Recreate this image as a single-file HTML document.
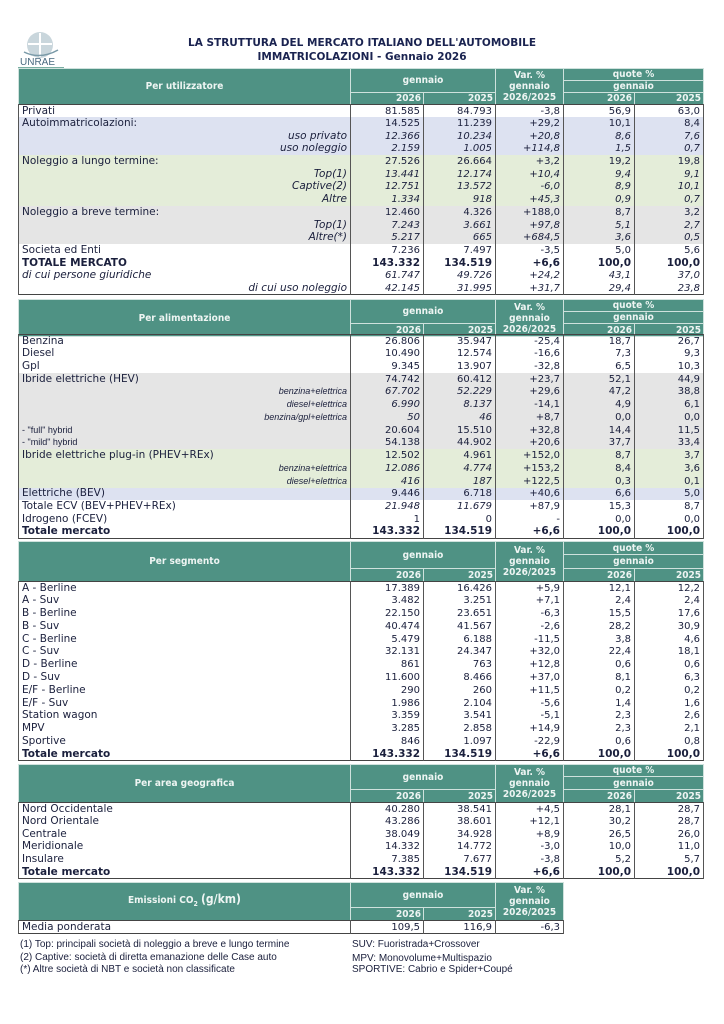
<!DOCTYPE html>
<html><head><meta charset="utf-8">
<style>
body{margin:0;width:724px;height:1024px;background:#fff;position:relative;font-family:"DejaVu Sans","Liberation Sans",sans-serif;color:#1a1f3c;overflow:hidden}
.t{position:absolute;left:18px;border-collapse:collapse;table-layout:fixed;font-size:10px}
.t td{padding:0 3px;white-space:nowrap;overflow:hidden;line-height:11px}
.h td{background:#4f9284;color:#eef5f3;font-family:"DejaVu Sans Condensed","DejaVu Sans",sans-serif;font-weight:bold;font-size:10px;text-align:center;border:1px solid #cfe2dd;padding:0 2px}
.h td.y{text-align:right}
.b td{text-align:right;border-left:1px solid #555;border-right:1px solid #555}
.b td:first-child{text-align:left;font-size:10.5px}
.bl{background:#dde2f1}.gr{background:#e4edd9}.gy{background:#e5e5e5}
.it td{font-style:italic}
.bd td{font-weight:bold;font-size:10.5px}
.sm td:first-child{font-family:"Liberation Sans",sans-serif;font-size:9px;font-style:italic;text-align:right}
.sm2 td:first-child{font-family:"Liberation Sans",sans-serif;font-size:9px}
.ri td:first-child{text-align:right;font-style:italic}
.body{border:1px solid #444}
.title{position:absolute;left:0;width:724px;text-align:center;font-weight:bold;font-size:10.5px;color:#1a2350}
.fn{position:absolute;font-family:"Liberation Sans",sans-serif;font-size:10px;color:#1a1f3c}
</style></head><body>
<svg style="position:absolute;left:18px;top:30px" width="48" height="40">
<circle cx="22" cy="15" r="13" fill="#c9d6dc"/><path d="M10 14 H34 M22 3 V27" stroke="#fff" stroke-width="2"/>
<path d="M6 22 Q22 30 40 20" stroke="#7a9aa8" fill="none" stroke-width="1.5"/>
<text x="2" y="35" font-family="Liberation Sans" font-size="10" fill="#4a6a80">UNRAE</text>
<line x1="0" y1="38" x2="46" y2="38" stroke="#4f9284" stroke-width="1.5"/></svg>
<div class="title" style="top:37px">LA STRUTTURA DEL MERCATO ITALIANO DELL'AUTOMOBILE</div>
<div class="title" style="top:51px">IMMATRICOLAZIONI - Gennaio 2026</div>

<!-- S1 -->
<table class="t" style="top:68px;width:685px">
<colgroup><col style="width:332px"><col style="width:73px"><col style="width:72px"><col style="width:68px"><col style="width:71px"><col style="width:69px"></colgroup>
<tr class="h" style="height:12px"><td rowspan="3">Per utilizzatore</td><td colspan="2" rowspan="2">gennaio</td><td rowspan="3">Var. %<br>gennaio<br>2026/2025</td><td colspan="2">quote %</td></tr>
<tr class="h" style="height:12px"><td colspan="2">gennaio</td></tr>
<tr class="h" style="height:12px"><td class="y">2026</td><td class="y">2025</td><td class="y">2026</td><td class="y">2025</td></tr>
</table>
<table class="t body" style="top:104px;width:685px">
<colgroup><col style="width:332px"><col style="width:73px"><col style="width:72px"><col style="width:68px"><col style="width:71px"><col style="width:69px"></colgroup>
<tr class="b" style="height:12.7px"><td>Privati</td><td>81.585</td><td>84.793</td><td>-3,8</td><td>56,9</td><td>63,0</td></tr>
<tr class="b bl" style="height:12.7px"><td>Autoimmatricolazioni:</td><td>14.525</td><td>11.239</td><td>+29,2</td><td>10,1</td><td>8,4</td></tr>
<tr class="b bl it ri" style="height:12.7px"><td>uso privato</td><td>12.366</td><td>10.234</td><td>+20,8</td><td>8,6</td><td>7,6</td></tr>
<tr class="b bl it ri" style="height:12.7px"><td>uso noleggio</td><td>2.159</td><td>1.005</td><td>+114,8</td><td>1,5</td><td>0,7</td></tr>
<tr class="b gr" style="height:12.7px"><td>Noleggio a lungo termine:</td><td>27.526</td><td>26.664</td><td>+3,2</td><td>19,2</td><td>19,8</td></tr>
<tr class="b gr it ri" style="height:12.7px"><td>Top(1)</td><td>13.441</td><td>12.174</td><td>+10,4</td><td>9,4</td><td>9,1</td></tr>
<tr class="b gr it ri" style="height:12.7px"><td>Captive(2)</td><td>12.751</td><td>13.572</td><td>-6,0</td><td>8,9</td><td>10,1</td></tr>
<tr class="b gr it ri" style="height:12.7px"><td>Altre</td><td>1.334</td><td>918</td><td>+45,3</td><td>0,9</td><td>0,7</td></tr>
<tr class="b gy" style="height:12.7px"><td>Noleggio a breve termine:</td><td>12.460</td><td>4.326</td><td>+188,0</td><td>8,7</td><td>3,2</td></tr>
<tr class="b gy it ri" style="height:12.7px"><td>Top(1)</td><td>7.243</td><td>3.661</td><td>+97,8</td><td>5,1</td><td>2,7</td></tr>
<tr class="b gy it ri" style="height:12.7px"><td>Altre(*)</td><td>5.217</td><td>665</td><td>+684,5</td><td>3,6</td><td>0,5</td></tr>
<tr class="b" style="height:12.7px"><td>Societa ed Enti</td><td>7.236</td><td>7.497</td><td>-3,5</td><td>5,0</td><td>5,6</td></tr>
<tr class="b bd" style="height:12.7px"><td>TOTALE MERCATO</td><td>143.332</td><td>134.519</td><td>+6,6</td><td>100,0</td><td>100,0</td></tr>
<tr class="b it" style="height:12.7px"><td>di cui persone giuridiche</td><td>61.747</td><td>49.726</td><td>+24,2</td><td>43,1</td><td>37,0</td></tr>
<tr class="b it ri" style="height:12.7px"><td>di cui uso noleggio</td><td>42.145</td><td>31.995</td><td>+31,7</td><td>29,4</td><td>23,8</td></tr>
</table>

<!-- S2 -->
<table class="t" style="top:299px;width:685px">
<colgroup><col style="width:332px"><col style="width:73px"><col style="width:72px"><col style="width:68px"><col style="width:71px"><col style="width:69px"></colgroup>
<tr class="h" style="height:11px"><td rowspan="3">Per alimentazione</td><td colspan="2" rowspan="2">gennaio</td><td rowspan="3">Var. %<br>gennaio<br>2026/2025</td><td colspan="2">quote %</td></tr>
<tr class="h" style="height:11px"><td colspan="2">gennaio</td></tr>
<tr class="h" style="height:13px"><td class="y">2026</td><td class="y">2025</td><td class="y">2026</td><td class="y">2025</td></tr>
</table>
<table class="t body" style="top:334px;width:685px">
<colgroup><col style="width:332px"><col style="width:73px"><col style="width:72px"><col style="width:68px"><col style="width:71px"><col style="width:69px"></colgroup>
<tr class="b" style="height:12.75px"><td>Benzina</td><td>26.806</td><td>35.947</td><td>-25,4</td><td>18,7</td><td>26,7</td></tr>
<tr class="b" style="height:12.75px"><td>Diesel</td><td>10.490</td><td>12.574</td><td>-16,6</td><td>7,3</td><td>9,3</td></tr>
<tr class="b" style="height:12.75px"><td>Gpl</td><td>9.345</td><td>13.907</td><td>-32,8</td><td>6,5</td><td>10,3</td></tr>
<tr class="b gy" style="height:12.75px"><td>Ibride elettriche (HEV)</td><td>74.742</td><td>60.412</td><td>+23,7</td><td>52,1</td><td>44,9</td></tr>
<tr class="b gy sm" style="height:12.75px"><td>benzina+elettrica</td><td><i>67.702</i></td><td><i>52.229</i></td><td>+29,6</td><td>47,2</td><td>38,8</td></tr>
<tr class="b gy sm" style="height:12.75px"><td>diesel+elettrica</td><td><i>6.990</i></td><td><i>8.137</i></td><td>-14,1</td><td>4,9</td><td>6,1</td></tr>
<tr class="b gy sm" style="height:12.75px"><td>benzina/gpl+elettrica</td><td><i>50</i></td><td><i>46</i></td><td>+8,7</td><td>0,0</td><td>0,0</td></tr>
<tr class="b gy sm2" style="height:12.75px"><td>- "full" hybrid</td><td>20.604</td><td>15.510</td><td>+32,8</td><td>14,4</td><td>11,5</td></tr>
<tr class="b gy sm2" style="height:12.75px"><td>- "mild" hybrid</td><td>54.138</td><td>44.902</td><td>+20,6</td><td>37,7</td><td>33,4</td></tr>
<tr class="b gr" style="height:12.75px"><td>Ibride elettriche plug-in (PHEV+REx)</td><td>12.502</td><td>4.961</td><td>+152,0</td><td>8,7</td><td>3,7</td></tr>
<tr class="b gr sm" style="height:12.75px"><td>benzina+elettrica</td><td><i>12.086</i></td><td><i>4.774</i></td><td>+153,2</td><td>8,4</td><td>3,6</td></tr>
<tr class="b gr sm" style="height:12.75px"><td>diesel+elettrica</td><td><i>416</i></td><td><i>187</i></td><td>+122,5</td><td>0,3</td><td>0,1</td></tr>
<tr class="b bl" style="height:12.75px"><td>Elettriche (BEV)</td><td>9.446</td><td>6.718</td><td>+40,6</td><td>6,6</td><td>5,0</td></tr>
<tr class="b" style="height:12.75px"><td>Totale ECV (BEV+PHEV+REx)</td><td><i>21.948</i></td><td><i>11.679</i></td><td>+87,9</td><td>15,3</td><td>8,7</td></tr>
<tr class="b" style="height:12.75px"><td>Idrogeno (FCEV)</td><td>1</td><td>0</td><td>-</td><td>0,0</td><td>0,0</td></tr>
<tr class="b bd" style="height:12.75px"><td>Totale mercato</td><td>143.332</td><td>134.519</td><td>+6,6</td><td>100,0</td><td>100,0</td></tr>
</table>

<!-- S3 -->
<table class="t" style="top:541px;width:685px">
<colgroup><col style="width:332px"><col style="width:73px"><col style="width:72px"><col style="width:68px"><col style="width:71px"><col style="width:69px"></colgroup>
<tr class="h" style="height:13px"><td rowspan="3">Per segmento</td><td colspan="2" rowspan="2">gennaio</td><td rowspan="3">Var. %<br>gennaio<br>2026/2025</td><td colspan="2">quote %</td></tr>
<tr class="h" style="height:14px"><td colspan="2">gennaio</td></tr>
<tr class="h" style="height:13px"><td class="y">2026</td><td class="y">2025</td><td class="y">2026</td><td class="y">2025</td></tr>
</table>
<table class="t body" style="top:581px;width:685px">
<colgroup><col style="width:332px"><col style="width:73px"><col style="width:72px"><col style="width:68px"><col style="width:71px"><col style="width:69px"></colgroup>
<tr class="b" style="height:12.8px"><td>A - Berline</td><td>17.389</td><td>16.426</td><td>+5,9</td><td>12,1</td><td>12,2</td></tr>
<tr class="b" style="height:12.8px"><td>A - Suv</td><td>3.482</td><td>3.251</td><td>+7,1</td><td>2,4</td><td>2,4</td></tr>
<tr class="b" style="height:12.8px"><td>B - Berline</td><td>22.150</td><td>23.651</td><td>-6,3</td><td>15,5</td><td>17,6</td></tr>
<tr class="b" style="height:12.8px"><td>B - Suv</td><td>40.474</td><td>41.567</td><td>-2,6</td><td>28,2</td><td>30,9</td></tr>
<tr class="b" style="height:12.8px"><td>C - Berline</td><td>5.479</td><td>6.188</td><td>-11,5</td><td>3,8</td><td>4,6</td></tr>
<tr class="b" style="height:12.8px"><td>C - Suv</td><td>32.131</td><td>24.347</td><td>+32,0</td><td>22,4</td><td>18,1</td></tr>
<tr class="b" style="height:12.8px"><td>D - Berline</td><td>861</td><td>763</td><td>+12,8</td><td>0,6</td><td>0,6</td></tr>
<tr class="b" style="height:12.8px"><td>D - Suv</td><td>11.600</td><td>8.466</td><td>+37,0</td><td>8,1</td><td>6,3</td></tr>
<tr class="b" style="height:12.8px"><td>E/F - Berline</td><td>290</td><td>260</td><td>+11,5</td><td>0,2</td><td>0,2</td></tr>
<tr class="b" style="height:12.8px"><td>E/F - Suv</td><td>1.986</td><td>2.104</td><td>-5,6</td><td>1,4</td><td>1,6</td></tr>
<tr class="b" style="height:12.8px"><td>Station wagon</td><td>3.359</td><td>3.541</td><td>-5,1</td><td>2,3</td><td>2,6</td></tr>
<tr class="b" style="height:12.8px"><td>MPV</td><td>3.285</td><td>2.858</td><td>+14,9</td><td>2,3</td><td>2,1</td></tr>
<tr class="b" style="height:12.8px"><td>Sportive</td><td>846</td><td>1.097</td><td>-22,9</td><td>0,6</td><td>0,8</td></tr>
<tr class="b bd" style="height:12.8px"><td>Totale mercato</td><td>143.332</td><td>134.519</td><td>+6,6</td><td>100,0</td><td>100,0</td></tr>
</table>

<!-- S4 -->
<table class="t" style="top:764px;width:685px">
<colgroup><col style="width:332px"><col style="width:73px"><col style="width:72px"><col style="width:68px"><col style="width:71px"><col style="width:69px"></colgroup>
<tr class="h" style="height:12px"><td rowspan="3">Per area geografica</td><td colspan="2" rowspan="2">gennaio</td><td rowspan="3">Var. %<br>gennaio<br>2026/2025</td><td colspan="2">quote %</td></tr>
<tr class="h" style="height:13px"><td colspan="2">gennaio</td></tr>
<tr class="h" style="height:13px"><td class="y">2026</td><td class="y">2025</td><td class="y">2026</td><td class="y">2025</td></tr>
</table>
<table class="t body" style="top:802px;width:685px">
<colgroup><col style="width:332px"><col style="width:73px"><col style="width:72px"><col style="width:68px"><col style="width:71px"><col style="width:69px"></colgroup>
<tr class="b" style="height:12.7px"><td>Nord Occidentale</td><td>40.280</td><td>38.541</td><td>+4,5</td><td>28,1</td><td>28,7</td></tr>
<tr class="b" style="height:12.7px"><td>Nord Orientale</td><td>43.286</td><td>38.601</td><td>+12,1</td><td>30,2</td><td>28,7</td></tr>
<tr class="b" style="height:12.7px"><td>Centrale</td><td>38.049</td><td>34.928</td><td>+8,9</td><td>26,5</td><td>26,0</td></tr>
<tr class="b" style="height:12.7px"><td>Meridionale</td><td>14.332</td><td>14.772</td><td>-3,0</td><td>10,0</td><td>11,0</td></tr>
<tr class="b" style="height:12.7px"><td>Insulare</td><td>7.385</td><td>7.677</td><td>-3,8</td><td>5,2</td><td>5,7</td></tr>
<tr class="b bd" style="height:12.7px"><td>Totale mercato</td><td>143.332</td><td>134.519</td><td>+6,6</td><td>100,0</td><td>100,0</td></tr>
</table>

<!-- S5 -->
<table class="t" style="top:882px;width:545px">
<colgroup><col style="width:332px"><col style="width:73px"><col style="width:72px"><col style="width:68px"></colgroup>
<tr class="h" style="height:12px"><td rowspan="3" style="font-size:10px">Emissioni CO<sub style="font-size:7px">2</sub> <span style="font-size:12px">(g/km)</span></td><td colspan="2" rowspan="2">gennaio</td><td rowspan="3">Var. %<br>gennaio<br>2026/2025</td></tr>
<tr class="h" style="height:13px"></tr>
<tr class="h" style="height:13px"><td class="y">2026</td><td class="y">2025</td></tr>
</table>
<table class="t body" style="top:920px;width:545px">
<colgroup><col style="width:332px"><col style="width:73px"><col style="width:72px"><col style="width:68px"></colgroup>
<tr class="b" style="height:13px"><td>Media ponderata</td><td>109,5</td><td>116,9</td><td>-6,3</td></tr>
</table>

<div class="fn" style="left:20px;top:939px">(1) Top: principali società di noleggio a breve e lungo termine</div>
<div class="fn" style="left:20px;top:952px">(2) Captive: società di diretta emanazione delle Case auto</div>
<div class="fn" style="left:20px;top:964px">(*) Altre società di NBT e società non classificate</div>
<div class="fn" style="left:352px;top:939px">SUV: Fuoristrada+Crossover</div>
<div class="fn" style="left:352px;top:953px">MPV: Monovolume+Multispazio</div>
<div class="fn" style="left:352px;top:964px">SPORTIVE: Cabrio e Spider+Coupé</div>
</body></html>
